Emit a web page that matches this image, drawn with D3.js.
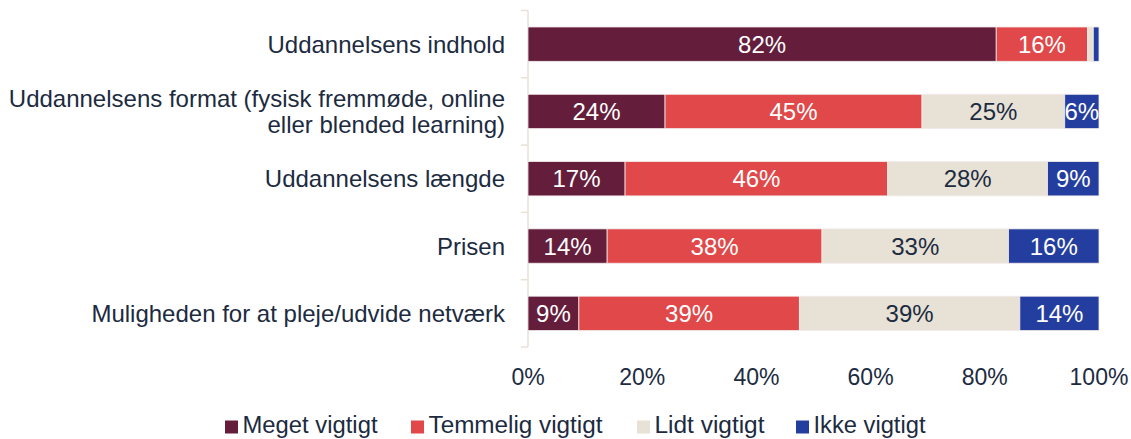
<!DOCTYPE html>
<html>
<head>
<meta charset="utf-8">
<script src="https://cdn.jsdelivr.net/npm/d3@7"></script>
<style>
  body { margin: 0; background: #fff; }
  svg { font-family: "Liberation Sans", Arial, sans-serif; }
</style>
</head>
<body>
<svg id="chart" width="1131" height="439"></svg>
<script>
// categories (top to bottom)
var categories = [
    "Uddannelsens indhold",
    "Uddannelsens format (fysisk fremmøde, online|eller blended learning)",
    "Uddannelsens længde",
    "Prisen",
    "Muligheden for at pleje/udvide netværk"
];
var series = ["Meget vigtigt", "Temmelig vigtigt", "Lidt vigtigt", "Ikke vigtigt"];

// percentages per series, same order as categories
var meget    = [82, 24, 17, 14, 9];
var temmelig = [16, 45, 46, 38, 39];
var lidt     = [1, 25, 28, 33, 39];
var ikke     = [1, 6, 9, 16, 14];

var xTicks = [0, 20, 40, 60, 80, 100];

var colors = ["#641e3b", "#e04849", "#e7e1d6", "#243e9f"];
var labelColors = ["#ffffff", "#ffffff", "#1c2b3f", "#ffffff"];
var textColor = "#1c2b3f";

var rows = categories.map(function (c, i) {
    return { cat: c, "Meget vigtigt": meget[i], "Temmelig vigtigt": temmelig[i], "Lidt vigtigt": lidt[i], "Ikke vigtigt": ikke[i] };
});

var svg = d3.select("#chart");

var x = d3.scaleLinear().domain([0, 1]).range([528, 1099]);
var y = d3.scaleBand().domain(categories).range([10.5, 347]).paddingInner(0.49).paddingOuter(0.245);

var stack = d3.stack().keys(series).offset(d3.stackOffsetExpand);
var stacked = stack(rows);

// axis line and ticks on the left
var yEdges = d3.range(categories.length + 1).map(function (i) { return 10.5 + i * y.step(); });
svg.append("line")
    .attr("x1", x(0)).attr("x2", x(0))
    .attr("y1", yEdges[0]).attr("y2", yEdges[yEdges.length - 1])
    .attr("stroke", "#e7e1d6").attr("stroke-width", 1.5);
svg.selectAll(".ytick").data(yEdges).enter().append("line")
    .attr("x1", x(0) - 7).attr("x2", x(0))
    .attr("y1", d => d).attr("y2", d => d)
    .attr("stroke", "#e7e1d6").attr("stroke-width", 1.5);

var groups = svg.selectAll(".serie").data(stacked).enter().append("g")
    .attr("fill", (d, i) => colors[i]);

groups.selectAll("rect").data(d => d).enter().append("rect")
    .attr("x", d => x(d[0]))
    .attr("y", d => y(d.data.cat))
    .attr("width", d => x(d[1]) - x(d[0]))
    .attr("height", y.bandwidth())
    .attr("stroke", "#f2eaea")
    .attr("stroke-width", 0.8);

groups.each(function (s, si) {
    d3.select(this).selectAll("text").data(s).enter()
        .filter(d => d.data[s.key] >= 5)
        .append("text")
        .attr("x", d => (x(d[0]) + x(d[1])) / 2)
        .attr("y", d => y(d.data.cat) + y.bandwidth() / 2)
        .attr("dy", "0.36em")
        .attr("text-anchor", "middle")
        .attr("fill", labelColors[si])
        .style("font-size", "24px")
        .text(d => d.data[s.key] + "%");
});

// category labels
svg.selectAll(".cat").data(categories).enter().append("text")
    .attr("text-anchor", "end")
    .attr("fill", textColor)
    .style("font-size", "24px")
    .each(function (d) {
        var lines = d.split("|");
        var cy = y(d) + y.bandwidth() / 2;
        var t = d3.select(this);
        lines.forEach(function (l, i) {
            t.append("tspan")
                .attr("x", 505)
                .attr("y", cy + (i - (lines.length - 1) / 2) * 26)
                .attr("dy", "0.36em")
                .text(l);
        });
    });

// x tick labels
svg.selectAll(".xt").data(xTicks).enter().append("text")
    .attr("x", d => x(d / 100))
    .attr("y", 377)
    .attr("dy", "0.36em")
    .attr("text-anchor", "middle")
    .attr("fill", textColor)
    .style("font-size", "23px")
    .text(d => d + "%");

// legend
var legendX = [225, 411, 637, 796];
var legend = svg.selectAll(".leg").data(series).enter().append("g")
    .attr("transform", (d, i) => "translate(" + legendX[i] + ",426)");
legend.append("rect")
    .attr("x", 0).attr("y", -5.5).attr("width", 13).attr("height", 13)
    .attr("fill", (d, i) => colors[i]);
legend.append("text")
    .attr("x", 17.5).attr("y", -1).attr("dy", "0.36em")
    .attr("fill", textColor)
    .style("font-size", "23px")
    .attr("textLength", (d, i) => [135, 174, 110, 112][i])
    .attr("lengthAdjust", "spacingAndGlyphs")
    .text(d => d);
</script>
</body>
</html>
